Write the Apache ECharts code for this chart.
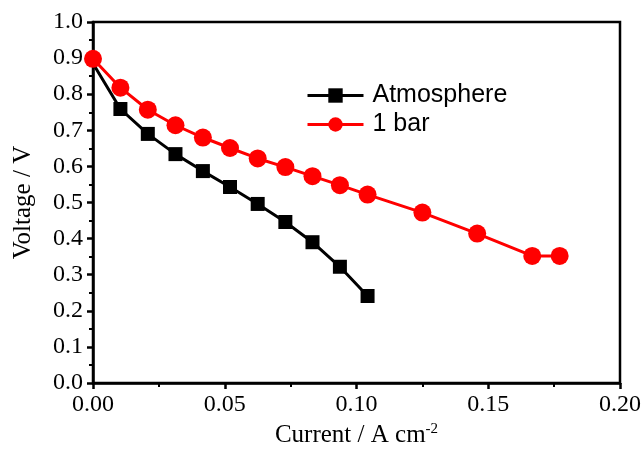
<!DOCTYPE html>
<html><head><meta charset="utf-8">
<script src="https://cdn.jsdelivr.net/npm/echarts@6/dist/echarts.min.js"></script>
<style>html,body{margin:0;padding:0;background:#fff}#c{width:643px;height:452px}</style>
</head><body><div id="c"></div>
<script>
const atmX = [0, 0.0104, 0.0208, 0.0313, 0.0417, 0.052, 0.0625, 0.073, 0.0833, 0.0937, 0.1042];
const atmY = [0.885, 0.759, 0.690, 0.634, 0.587, 0.543, 0.496, 0.446, 0.390, 0.322, 0.241];
const barX = [0, 0.0104, 0.0208, 0.0313, 0.0417, 0.052, 0.0625, 0.073, 0.0833, 0.0937, 0.1042, 0.125, 0.1458, 0.1667, 0.1771];
const barY = [0.898, 0.818, 0.757, 0.714, 0.680, 0.651, 0.622, 0.598, 0.573, 0.548, 0.522, 0.472, 0.414, 0.352, 0.352];
const xTicks = [0, 0.05, 0.10, 0.15, 0.20];
const yTicks = [0, 0.1, 0.2, 0.3, 0.4, 0.5, 0.6, 0.7, 0.8, 0.9, 1.0];

const atmData = atmX.map((x, i) => i === 0 ? {value: [x, atmY[i]], symbol: 'none'} : [x, atmY[i]]);
const barData = barX.map((x, i) => [x, barY[i]]);

const chart = echarts.init(document.getElementById('c'));
const serif = '"Liberation Serif", "Times New Roman", serif';
chart.setOption({
  animation: false,
  grid: {left: 93, right: 23, top: 22, bottom: 69, show: true, borderColor: '#000', borderWidth: 2.5,
    backgroundColor: 'transparent', containLabel: false, outerBoundsMode: 'none'},
  legend: {
    orient: 'vertical', left: 301, top: 78, itemWidth: 56, itemHeight: 18, itemGap: 4,
    lineStyle: {width: 3},
    textStyle: {fontFamily: '"Liberation Sans", Arial, sans-serif', fontSize: 25, color: '#000', padding: [0, 0, 0, 4]},
    data: ['Atmosphere', '1 bar']
  },
  xAxis: {
    type: 'value', min: 0, max: 0.2, interval: 0.05,
    axisLine: {lineStyle: {color: '#000', width: 2.5}},
    axisTick: {length: 6, lineStyle: {width: 2.5, color: '#000'}},
    minorTick: {show: true, splitNumber: 2, length: 4, lineStyle: {width: 2, color: '#000'}},
    splitLine: {show: false},
    axisLabel: {fontFamily: serif, fontSize: 24, color: '#000', margin: 10,
      formatter: v => v.toFixed(2)},
    name: '{a|Current / A cm}{s|-2}', nameLocation: 'middle', nameGap: 37,
    nameTextStyle: {rich: {a: {fontFamily: serif, fontSize: 25, color: '#000'}, s: {fontFamily: serif, fontSize: 15, color: '#000', verticalAlign: 'top', padding: [0, 0, 12, 0]}}}
  },
  yAxis: {
    type: 'value', min: 0, max: 1.0, interval: 0.1,
    axisLine: {lineStyle: {color: '#000', width: 2.5}},
    axisTick: {length: 6, lineStyle: {width: 2.5, color: '#000'}},
    minorTick: {show: true, splitNumber: 2, length: 4, lineStyle: {width: 2, color: '#000'}},
    splitLine: {show: false},
    axisLabel: {fontFamily: serif, fontSize: 24, color: '#000', margin: 10,
      formatter: v => v.toFixed(1)},
    name: 'Voltage / V', nameLocation: 'middle', nameGap: 57,
    nameTextStyle: {fontFamily: serif, fontSize: 25, color: '#000'}
  },
  series: [
    {name: 'Atmosphere', type: 'line', data: atmData, symbol: 'rect', symbolSize: 14,
      lineStyle: {color: '#000', width: 3}, itemStyle: {color: '#000'}, z: 2},
    {name: '1 bar', type: 'line', data: barData, symbol: 'circle', symbolSize: 18,
      lineStyle: {color: '#ff0000', width: 3}, itemStyle: {color: '#ff0000'}, z: 3}
  ]
});
</script></body></html>
